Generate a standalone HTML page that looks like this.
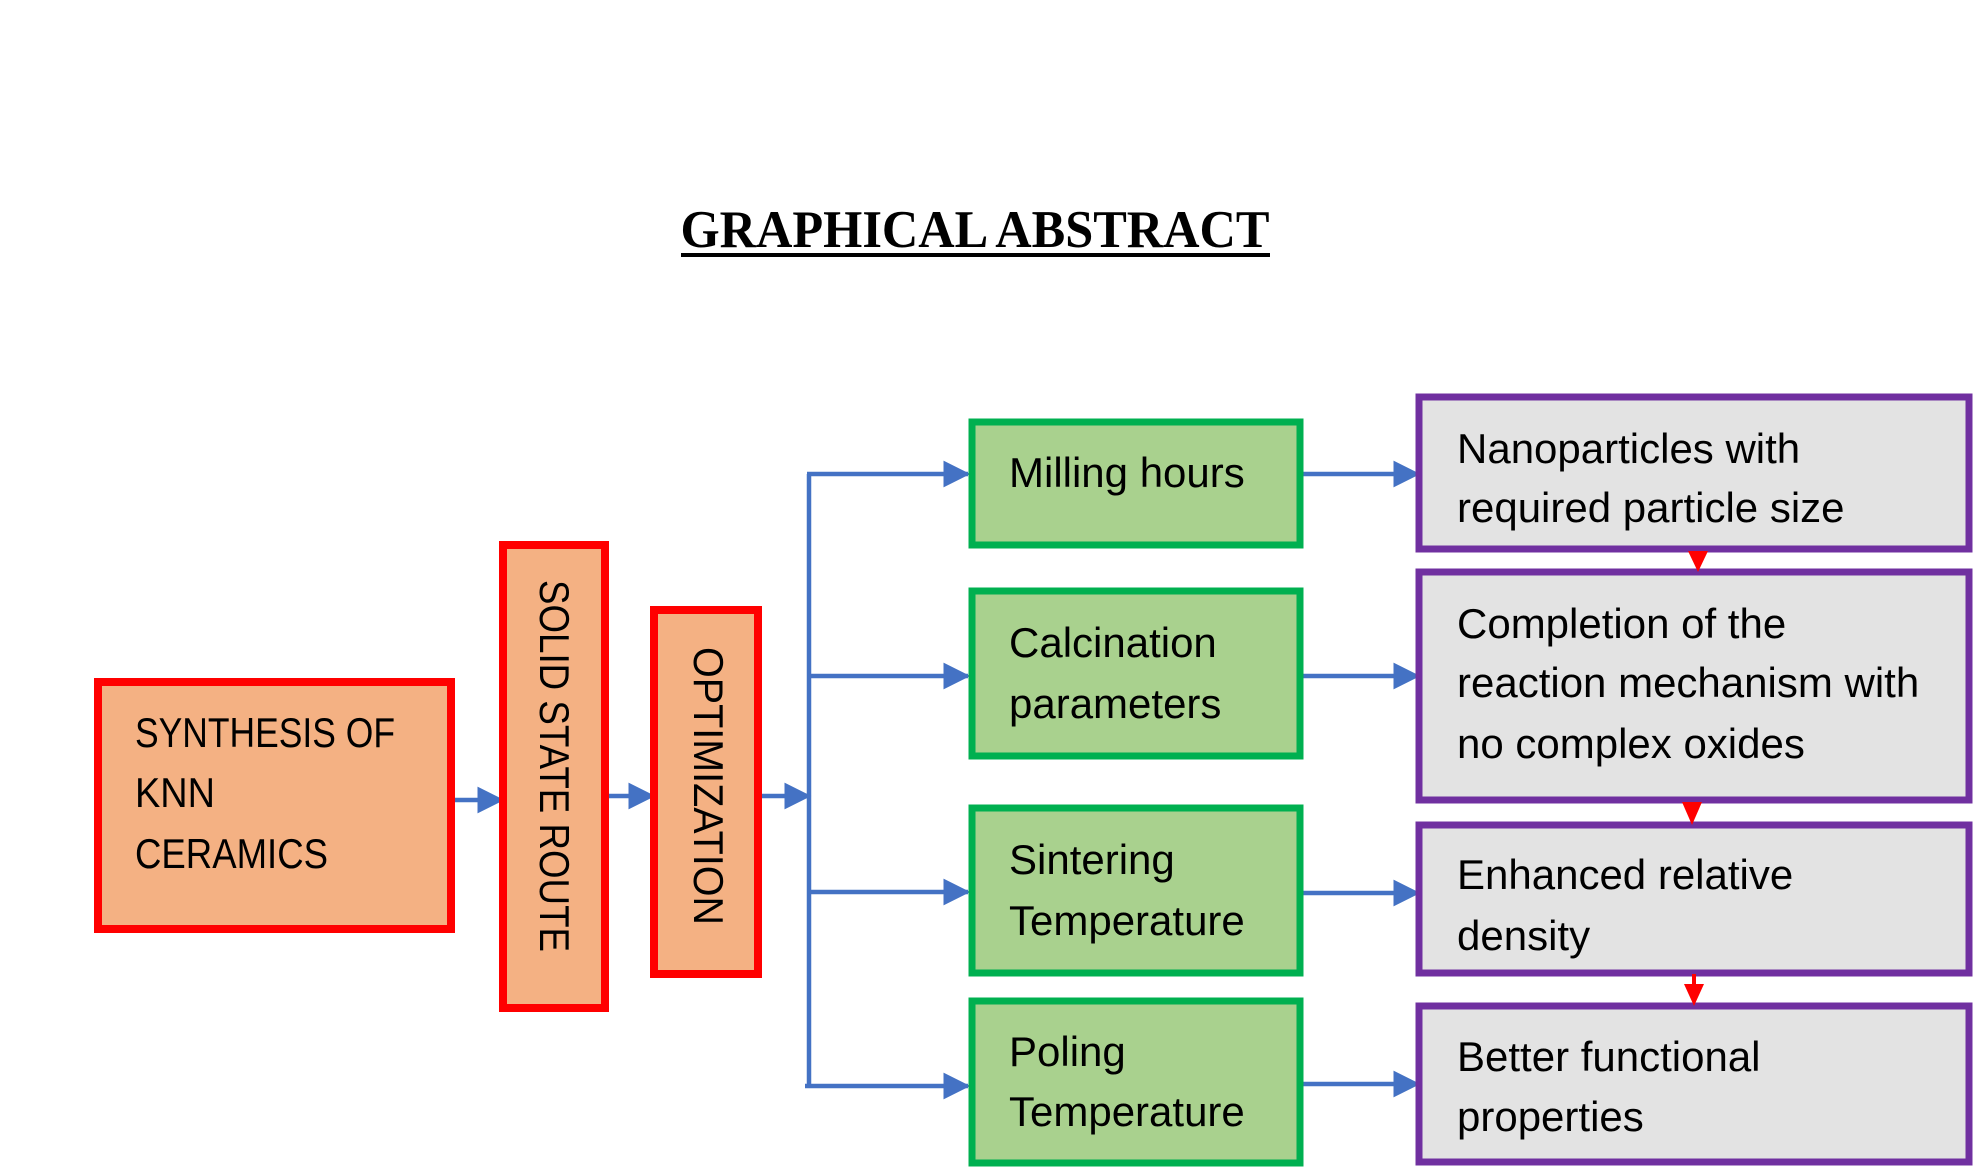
<!DOCTYPE html>
<html><head><meta charset="utf-8"><style>html,body{margin:0;padding:0;background:#fff}svg{display:block}</style></head>
<body>
<svg width="1978" height="1173" viewBox="0 0 1978 1173" xmlns="http://www.w3.org/2000/svg" font-family="'Liberation Sans', sans-serif">
<defs>
<marker id="ab" markerWidth="6" markerHeight="6" refX="5.5" refY="3" orient="auto" markerUnits="strokeWidth"><path d="M0,0 L6,3 L0,6 z" fill="#4472C4"/></marker>
</defs>
<text x="975" y="247" font-family="'Liberation Serif', serif" font-weight="bold" font-size="53" text-anchor="middle" textLength="589" lengthAdjust="spacingAndGlyphs">GRAPHICAL ABSTRACT</text>
<rect x="681" y="253" width="589" height="4" fill="#000"/>

<g stroke="#4472C4" stroke-width="4.5" fill="none">
<line x1="452" y1="800" x2="502" y2="800" marker-end="url(#ab)"/>
<line x1="606" y1="796" x2="653" y2="796" marker-end="url(#ab)"/>
<line x1="759" y1="796" x2="809" y2="796" marker-end="url(#ab)"/>
<line x1="809" y1="474" x2="809" y2="1086"/>
<line x1="807" y1="474" x2="968" y2="474" marker-end="url(#ab)"/>
<line x1="807" y1="676" x2="968" y2="676" marker-end="url(#ab)"/>
<line x1="807" y1="892" x2="968" y2="892" marker-end="url(#ab)"/>
<line x1="805" y1="1086" x2="968" y2="1086" marker-end="url(#ab)"/>
<line x1="1301" y1="474" x2="1418" y2="474" marker-end="url(#ab)"/>
<line x1="1301" y1="676" x2="1418" y2="676" marker-end="url(#ab)"/>
<line x1="1301" y1="893" x2="1418" y2="893" marker-end="url(#ab)"/>
<line x1="1301" y1="1084" x2="1418" y2="1084" marker-end="url(#ab)"/>
</g>

<g fill="#F4B183" stroke="#FF0000" stroke-width="8">
<rect x="98" y="682" width="353" height="247"/>
<rect x="503" y="545" width="102" height="463"/>
<rect x="654" y="610" width="104" height="364"/>
</g>
<g fill="#A9D18E" stroke="#00B050" stroke-width="7">
<rect x="972" y="422" width="328" height="123"/>
<rect x="972" y="591" width="328" height="165"/>
<rect x="972" y="808" width="328" height="165"/>
<rect x="972" y="1001" width="328" height="162"/>
</g>
<g fill="#E3E3E3" stroke="#7030A0" stroke-width="7">
<rect x="1419" y="397" width="550" height="152"/>
<rect x="1419" y="572" width="550" height="228"/>
<rect x="1419" y="825" width="550" height="148"/>
<rect x="1419" y="1006" width="550" height="156"/>
</g>
<g fill="#FF0000">
<path d="M1688,551 L1708,551 L1698,572 z"/>
<path d="M1682,802 L1702,802 L1692,825 z"/>
<rect x="1692" y="974" width="4" height="10"/>
<path d="M1684,984 L1704,984 L1694,1006 z"/>
</g>

<g font-size="42" fill="#000">
<text x="135" y="747" textLength="260" lengthAdjust="spacingAndGlyphs">SYNTHESIS OF</text>
<text x="135" y="807" textLength="80" lengthAdjust="spacingAndGlyphs">KNN</text>
<text x="135" y="868" textLength="193" lengthAdjust="spacingAndGlyphs">CERAMICS</text>
<text transform="translate(540,580) rotate(90)" textLength="372" lengthAdjust="spacingAndGlyphs">SOLID STATE ROUTE</text>
<text transform="translate(694,647) rotate(90)" textLength="278" lengthAdjust="spacingAndGlyphs">OPTIMIZATION</text>
<text x="1009" y="487">Milling hours</text>
<text x="1009" y="657">Calcination</text>
<text x="1009" y="718">parameters</text>
<text x="1009" y="874">Sintering</text>
<text x="1009" y="935">Temperature</text>
<text x="1009" y="1066">Poling</text>
<text x="1009" y="1126">Temperature</text>
<text x="1457" y="463">Nanoparticles with</text>
<text x="1457" y="522">required particle size</text>
<text x="1457" y="638">Completion of the</text>
<text x="1457" y="697">reaction mechanism with</text>
<text x="1457" y="758">no complex oxides</text>
<text x="1457" y="889">Enhanced relative</text>
<text x="1457" y="950">density</text>
<text x="1457" y="1071">Better functional</text>
<text x="1457" y="1131">properties</text>
</g>
</svg>
</body></html>
